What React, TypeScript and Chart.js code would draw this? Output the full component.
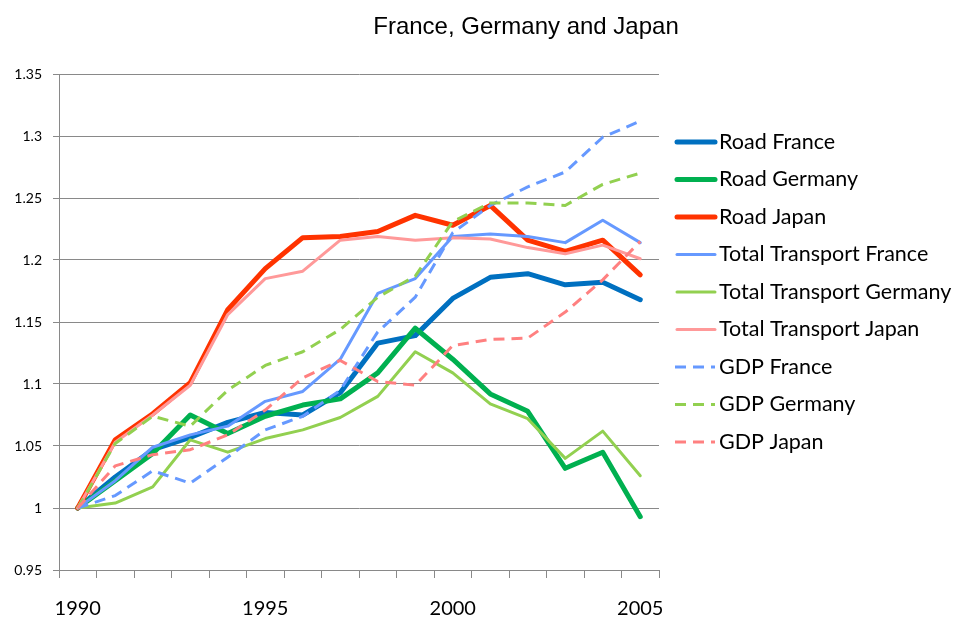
import React, { useEffect, useRef } from "react";
import { Chart, registerables } from "chart.js";

Chart.register(...registerables);

const TITLE = "France, Germany and Japan";
const years = ["1990","1991","1992","1993","1994","1995","1996","1997","1998","1999","2000","2001","2002","2003","2004","2005"];

const roadFrance = [1.0, 1.025, 1.047, 1.057, 1.069, 1.077, 1.075, 1.093, 1.133, 1.139, 1.169, 1.186, 1.189, 1.180, 1.182, 1.168];
const roadGermany = [1.0, 1.022, 1.044, 1.075, 1.060, 1.074, 1.083, 1.088, 1.109, 1.145, 1.120, 1.092, 1.078, 1.032, 1.045, 0.993];
const roadJapan = [1.0, 1.055, 1.076, 1.101, 1.160, 1.193, 1.218, 1.219, 1.223, 1.236, 1.228, 1.244, 1.216, 1.207, 1.216, 1.188];
const ttFrance = [1.0, 1.022, 1.049, 1.059, 1.066, 1.086, 1.094, 1.120, 1.173, 1.185, 1.219, 1.221, 1.219, 1.214, 1.232, 1.214];
const ttGermany = [1.0, 1.004, 1.017, 1.055, 1.045, 1.056, 1.063, 1.073, 1.090, 1.126, 1.109, 1.084, 1.072, 1.040, 1.062, 1.026];
const ttJapan = [1.0, 1.053, 1.075, 1.099, 1.156, 1.185, 1.191, 1.216, 1.219, 1.216, 1.218, 1.217, 1.210, 1.205, 1.212, 1.201];
const gdpFrance = [1.0, 1.010, 1.030, 1.020, 1.041, 1.063, 1.074, 1.095, 1.142, 1.170, 1.222, 1.244, 1.259, 1.271, 1.299, 1.312];
const gdpGermany = [1.0, 1.052, 1.074, 1.066, 1.095, 1.115, 1.126, 1.144, 1.170, 1.187, 1.231, 1.246, 1.246, 1.244, 1.261, 1.270];
const gdpJapan = [1.0, 1.034, 1.043, 1.047, 1.059, 1.079, 1.105, 1.119, 1.102, 1.099, 1.131, 1.136, 1.137, 1.158, 1.184, 1.215];

const yMin = 0.95;
const yMax = 1.35;
const yStep = 0.05;
const xLabelEvery = 5;

const seriesNames = [
  "Road France", "Road Germany", "Road Japan",
  "Total Transport France", "Total Transport Germany", "Total Transport Japan",
  "GDP France", "GDP Germany", "GDP Japan",
];
const seriesValues = [roadFrance, roadGermany, roadJapan, ttFrance, ttGermany, ttJapan, gdpFrance, gdpGermany, gdpJapan];
const seriesColors = ["#0070C0", "#00B050", "#FF3300", "#6699FF", "#92D050", "#FF9999", "#6699FF", "#92D050", "#FF8080"];
const seriesKinds = ["thick", "thick", "thick", "thin", "thin", "thin", "dash", "dash", "dash"];

const GRID = "#898989";
const LEGEND_FONT = "21.5px Lato";

const titlePlugin = {
  id: "customTitle",
  afterDraw(chart: any) {
    const ctx = chart.ctx;
    ctx.save();
    ctx.font = "24px 'Liberation Sans', Arial, sans-serif";
    ctx.fillStyle = "#000";
    ctx.textAlign = "center";
    ctx.textBaseline = "middle";
    ctx.fillText(TITLE, 526, 27);
    ctx.restore();
  },
};

const legendPlugin = {
  id: "customLegend",
  afterDraw(chart: any) {
    const ctx = chart.ctx;
    const area = chart.chartArea;
    ctx.save();
    chart.data.datasets.forEach((ds: any, i: number) => {
      const y = 142 + i * 37.5;
      const x0 = area.right + 16;
      const dashed = ds.borderDash && ds.borderDash.length;
      ctx.beginPath();
      ctx.strokeStyle = ds.borderColor;
      ctx.lineWidth = ds.borderWidth;
      ctx.lineCap = dashed ? "butt" : "round";
      ctx.setLineDash(ds.borderDash || []);
      ctx.moveTo(x0 + (dashed ? 0 : 2), y);
      ctx.lineTo(x0 + 40, y);
      ctx.stroke();
      ctx.setLineDash([]);
      ctx.font = LEGEND_FONT;
      ctx.fillStyle = "#000";
      ctx.textAlign = "left";
      ctx.textBaseline = "middle";
      ctx.fillText(ds.label, x0 + 44, y);
    });
    ctx.restore();
  },
};

export default function App() {
  const ref = useRef<HTMLCanvasElement | null>(null);
  useEffect(() => {
    document.body.style.margin = "0";
    const canvas = ref.current!;
    const datasets = seriesNames.map((name, i) => {
      const kind = seriesKinds[i];
      return {
        label: name,
        data: seriesValues[i],
        borderColor: seriesColors[i],
        backgroundColor: seriesColors[i],
        borderWidth: kind === "thick" ? 5 : 3,
        borderDash: kind === "dash" ? [11, 7] : [],
        borderCapStyle: kind === "dash" ? "butt" : "round",
        borderJoinStyle: "round",
        pointRadius: 0,
        tension: 0,
        fill: false,
        order: seriesNames.length - i,
      };
    });
    const chart = new Chart(canvas, {
      type: "line",
      data: { labels: years, datasets: datasets as any },
      options: {
        animation: false,
        responsive: false,
        maintainAspectRatio: false,
        layout: { padding: { top: 74, right: 295, left: 0, bottom: 0 } },
        plugins: { legend: { display: false }, title: { display: false }, tooltip: { enabled: false } },
        scales: {
          x: {
            type: "category",
            offset: true,
            grid: {
              offset: true,
              drawOnChartArea: false,
              drawTicks: true,
              tickLength: 8,
              color: GRID,
            },
            border: { display: true, color: GRID },
            ticks: {
              autoSkip: false,
              maxRotation: 0,
              padding: 19,
              color: "#000",
              font: { family: "Lato", size: 20 },
              callback: (_v: any, idx: number) => (idx % xLabelEvery === 0 ? years[idx] : ""),
            },
            afterFit: (s: any) => { s.height = 47; },
          },
          y: {
            min: yMin,
            max: yMax,
            grid: { color: GRID, tickLength: 6, drawTicks: true },
            border: { display: true, color: GRID },
            ticks: {
              stepSize: yStep,
              padding: 11,
              color: "#000",
              font: { family: "Lato", size: 14 },
              callback: (v: any) => String(parseFloat(Number(v).toFixed(2))),
            },
            afterFit: (s: any) => { s.width = 59; },
          },
        },
      } as any,
      plugins: [titlePlugin, legendPlugin],
    });
    return () => chart.destroy();
  }, []);
  return <canvas ref={ref} width={954} height={617} style={{ display: "block" }} />;
}
